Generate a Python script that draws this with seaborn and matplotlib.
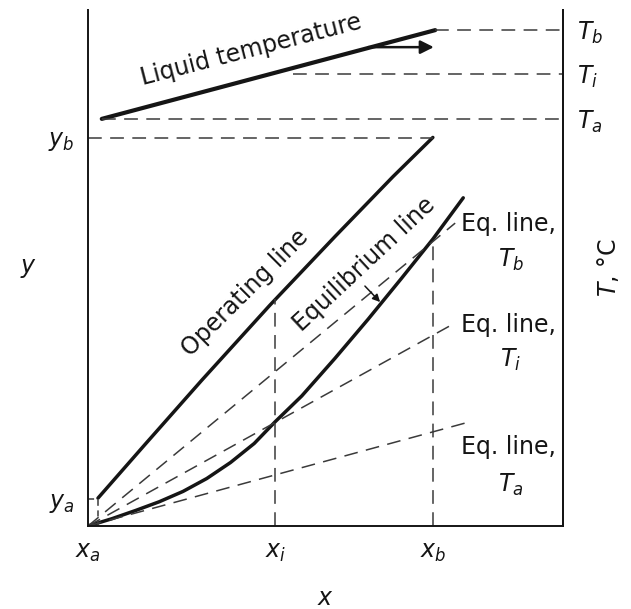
import matplotlib
matplotlib.use("Agg")
import matplotlib.pyplot as plt
import seaborn as sns
import pandas as pd

# ---------------- data (fractions of the axis range) ----------------
x_ticks = [0.0, 0.394, 0.726]
x_labels = ["$x_a$", "$x_i$", "$x_b$"]
y_ticks = [0.052, 0.752]
y_labels = ["$y_a$", "$y_b$"]
T_ticks = [0.789, 0.876, 0.961]
T_labels = ["$T_a$", "$T_i$", "$T_b$"]

liquid_x = [0.029, 0.731]
liquid_y = [0.789, 0.961]

op_x = [0.021, 0.12, 0.24, 0.383, 0.52, 0.642, 0.726]
op_y = [0.054, 0.158, 0.283, 0.428, 0.561, 0.677, 0.753]

eq_x = [0.0, 0.05, 0.10, 0.15, 0.20, 0.25, 0.30, 0.35, 0.394, 0.45, 0.52,
        0.59, 0.66, 0.726, 0.79]
eq_y = [0.0, 0.014, 0.030, 0.047, 0.067, 0.092, 0.123, 0.160, 0.202, 0.252,
        0.325, 0.401, 0.480, 0.556, 0.636]

eqTb_x = [0.0, 0.773]
eqTb_y = [0.0, 0.587]
eqTi_x = [0.0, 0.766]
eqTi_y = [0.0, 0.390]
eqTa_x = [0.0, 0.796]
eqTa_y = [0.0, 0.200]

# ---------------- style ----------------
sns.set_theme(style="white")
plt.rcParams["font.family"] = ["DejaVu Sans"]
plt.rcParams["mathtext.fontset"] = "dejavusans"

ink = "#151515"
dash_col = "#3a3a3a"
dash = (0, (9, 5.5))
FS = 17

fig = plt.figure(figsize=(6.31, 6.09), dpi=100)
ax = fig.add_axes([88 / 631, 83 / 609, 475 / 631, 516 / 609])
ax.set_xlim(0, 1)
ax.set_ylim(0, 1)

# main solid curves
sns.lineplot(data=pd.DataFrame({"x": liquid_x, "y": liquid_y}), x="x", y="y",
             ax=ax, color=ink, lw=3.0, sort=False, estimator=None)
sns.lineplot(data=pd.DataFrame({"x": op_x, "y": op_y}), x="x", y="y",
             ax=ax, color=ink, lw=2.5, sort=False, estimator=None,
             solid_joinstyle="round")
sns.lineplot(data=pd.DataFrame({"x": eq_x, "y": eq_y}), x="x", y="y",
             ax=ax, color=ink, lw=2.5, sort=False, estimator=None,
             solid_joinstyle="round")

# dashed equilibrium lines at constant temperatures
for ex, ey in [(eqTb_x, eqTb_y), (eqTi_x, eqTi_y), (eqTa_x, eqTa_y)]:
    ax.plot(ex, ey, color=dash_col, lw=1.1, linestyle=dash)

# dashed guides
Ta, Ti, Tb = T_ticks
ya, yb = y_ticks
xa, xi, xb = x_ticks
ax.plot([liquid_x[1], 1], [Tb, Tb], color=dash_col, lw=1.1, linestyle=dash)
ax.plot([0.432, 1], [Ti, Ti], color=dash_col, lw=1.1, linestyle=dash)
ax.plot([liquid_x[0], 1], [Ta, Ta], color=dash_col, lw=1.1, linestyle=dash)
ax.plot([0, xb], [yb, yb], color=dash_col, lw=1.1, linestyle=dash)
ax.plot([xi, xi], [0, 0.439], color=dash_col, lw=1.1, linestyle=dash)
ax.plot([xb, xb], [0, 0.556], color=dash_col, lw=1.1, linestyle=dash)
ax.plot([0, op_x[0], op_x[0]], [ya, ya, 0], color=dash_col, lw=1.1,
        linestyle=(0, (4, 3)))

# arrows
ax.annotate("", xy=(0.728, 0.928), xytext=(0.590, 0.928),
            arrowprops=dict(arrowstyle="-|>", color=ink, lw=1.8,
                            mutation_scale=20, shrinkA=0, shrinkB=0))
ax.annotate("", xy=(0.615, 0.434), xytext=(0.583, 0.465),
            arrowprops=dict(arrowstyle="-|>", color=ink, lw=1.1,
                            mutation_scale=11, shrinkA=0, shrinkB=0))

# annotations
ax.text(0.343, 0.922, "Liquid temperature", fontsize=FS, color=ink,
        rotation=14.5, ha="center", va="center", rotation_mode="anchor")
ax.text(0.331, 0.452, "Operating line", fontsize=FS, color=ink,
        rotation=45, ha="center", va="center", rotation_mode="anchor")
ax.text(0.581, 0.508, "Equilibrium line", fontsize=FS, color=ink,
        rotation=43, ha="center", va="center", rotation_mode="anchor")
for ty, ty2, lab in [(0.585, 0.516, "$T_b$"), (0.390, 0.322, "$T_i$"),
                     (0.153, 0.079, "$T_a$")]:
    ax.text(0.886, ty, "Eq. line,", fontsize=FS, color=ink,
            ha="center", va="center")
    ax.text(0.890, ty2, lab, fontsize=FS, color=ink, ha="center", va="center")

# axes, ticks
ax.set_xticks(x_ticks)
ax.set_xticklabels(x_labels, fontsize=FS, color=ink)
ax.set_yticks(y_ticks)
ax.set_yticklabels(y_labels, fontsize=FS, color=ink)
ax.tick_params(axis="both", length=0)
ax.tick_params(axis="x", pad=10)
ax.tick_params(axis="y", pad=10)
ax.set_xlabel("$x$", fontsize=FS, color=ink, labelpad=16)
ax.set_ylabel("$y$", fontsize=FS, color=ink, labelpad=14, rotation=0,
              va="center")

ax2 = ax.twinx()
ax2.set_ylim(0, 1)
ax2.set_yticks(T_ticks)
ax2.set_yticklabels(T_labels, fontsize=FS, color=ink)
ax2.tick_params(axis="y", length=0, pad=10)
ax2.set_ylabel("$T$, °C", fontsize=FS, color=ink, labelpad=-6)

for a in (ax, ax2):
    a.spines["top"].set_visible(False)
    for s in ("left", "right", "bottom"):
        a.spines[s].set_color(ink)
        a.spines[s].set_linewidth(1.4)
    a.grid(False)
ax2.spines["left"].set_visible(False)
ax2.spines["bottom"].set_visible(False)

fig.savefig("out.png", dpi=100, facecolor="white")
